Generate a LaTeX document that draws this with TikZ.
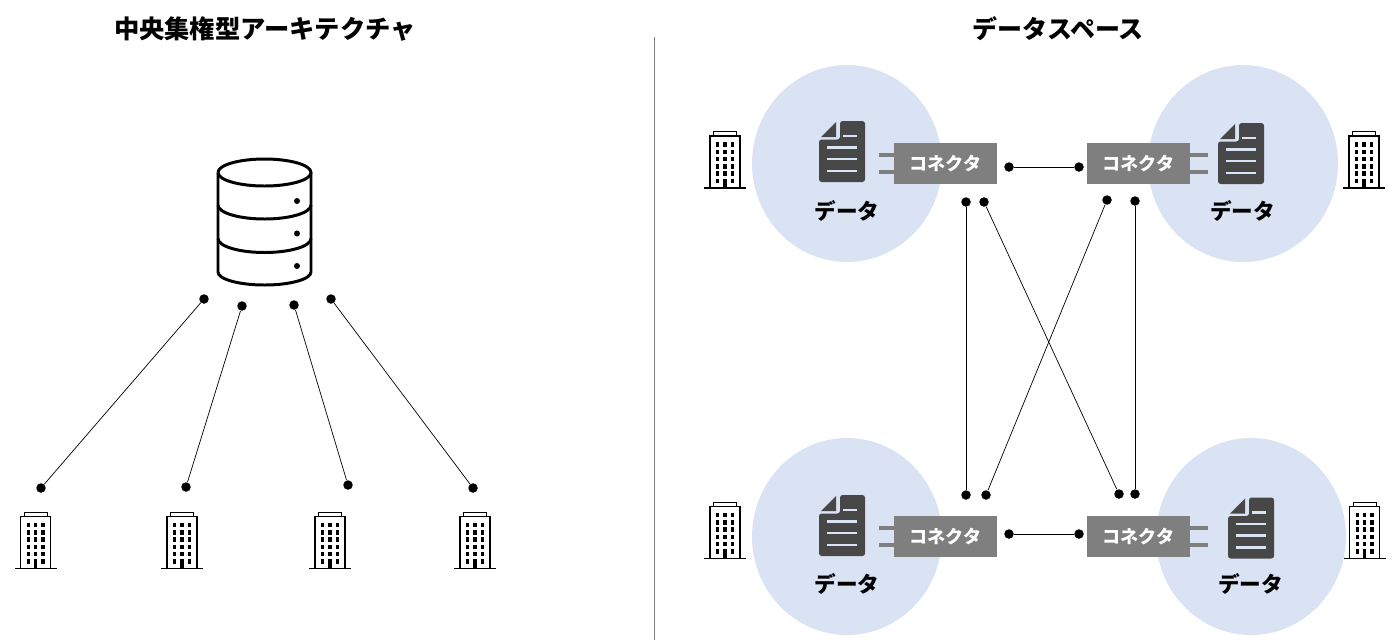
\documentclass[tikz,border=0pt]{standalone}
\usepackage{fontspec}
\newfontfamily\jpfont{Noto Sans CJK JP}
\usepackage{tikz}
\usetikzlibrary{calc,shapes.geometric}
\definecolor{circleblue}{HTML}{DAE3F3}
\definecolor{docgray}{HTML}{474747}
\definecolor{boxgray}{HTML}{7F7F7F}
\tikzset{
	title/.style={font=\jpfont\bfseries\fontsize{14.2}{16}\selectfont},
	datalabel/.style={font=\jpfont\bfseries\fontsize{12.3}{14}\selectfont},
	connbox/.style={fill=boxgray,text=white,inner sep=0pt,minimum width=2.06cm,minimum height=0.82cm,font=\jpfont\bfseries\fontsize{10.3}{12}\selectfont},
	prong/.style={draw=boxgray,line width=0.8mm},
	zone/.style={ellipse,fill=circleblue,inner sep=0pt,minimum width=3.8cm,minimum height=3.94cm},
	dot/.style={circle,fill=black,inner sep=0pt,minimum size=0.19cm},
	link/.style={draw=black,line width=0.4pt},
	building/.pic={ %base centre is the origin
		\draw[line width=0.7pt] (-21,0) -- (21,0);
		\draw[line width=0.7pt] (-15,0) -- (-15,-52) -- (15,-52) -- (15,0);
		\draw[line width=0.5pt] (-11.5,-52) -- (-11.5,-56.5) -- (11.5,-56.5) -- (11.5,-52);
		\foreach \wy in {-43.5,-36,-29,-21.5,-14.5,-7}{
			\foreach \wx in {-7.3,0,7.3}{
				\fill (\wx-1.7,\wy-2.4) rectangle (\wx+1.7,\wy+2.4);
			}
		}
		\fill (-1.7,-9) rectangle (1.7,0); %door
	},
	document/.pic={ %centre is the origin
		\fill[docgray,rounded corners=1.5pt] (-23,-12) -- (-2,-12) -- (-2,-30.5) -- (23,-30.5) -- (23,30.5) -- (-23,30.5) -- cycle;
		\fill[docgray] (-21,-14.5) -- (-6,-14.5) -- (-6,-29.5) -- cycle;
		\draw[circleblue,line width=1.35pt] (1,-15.5) -- (15,-15.5);
		\foreach \ly in {-4,7.5,19.5}{
			\draw[circleblue,line width=1.35pt] (-15,\ly) -- (15,\ly);
		}
	},
}
\begin{document}
\begin{tikzpicture}[x=0.02cm,y=-0.02cm]
	\useasboundingbox (0,0) rectangle (1400,640);
	\node[title,font=\jpfont\bfseries\fontsize{14.4}{16}\selectfont] (lefttitle) at (265,29) {中央集権型アーキテクチャ};
	\node[title] (righttitle) at (1058,29) {データスペース};
	\coordinate (divtop) at (654.5,37);
	\coordinate (divbot) at (654.5,640);
	\draw[boxgray,line width=0.5pt] (divtop) -- (divbot); %divider
	% database
	\draw[line width=1.7pt] (218,172.5) arc[start angle=180,end angle=-180,x radius=46.5,y radius=13.5];
	\draw[line width=1.7pt,line join=round] (218,172.5) -- (218,272) arc[start angle=180,end angle=360,x radius=46.5,y radius=-13] -- (311,172.5);
	\draw[line width=1.7pt] (218,205) arc[start angle=180,end angle=360,x radius=46.5,y radius=-14];
	\draw[line width=1.7pt] (218,238.5) arc[start angle=180,end angle=360,x radius=46.5,y radius=-14];
	\foreach \dy in {201,233.5,266}{
		\fill (297,\dy) circle (3);
	}
	% left links
	\foreach \nm/\ax/\ay/\bx/\by in {a/204/299/41/488,b/242/306/186/487,c/294/305/348/485,d/331/299/473/488}{
		\node[dot] (\nm top) at (\ax,\ay) {};
		\node[dot] (\nm bot) at (\bx,\by) {};
		\draw[link] (\nm top) -- (\nm bot);
	}
	% data spaces
	\foreach \nm/\zx/\zy/\dx/\dy/\lx/\ly in {nw/847/163.5/842/151.5/847/211,ne/1243/163.5/1241/153.5/1242.5/211,sw/847/536.5/842/525.5/847/584,se/1251/536.5/1251/528/1250.5/584}{
		\node[zone] (zone\nm) at (\zx,\zy) {};
		\pic at (\dx,\dy) {document};
		\node[datalabel] (label\nm) at (\lx,\ly) {データ};
	}
	% buildings
	\foreach \bx/\by in {35.5/568.5,182/568.5,330/568.5,475/568.5,725/188,1364/188,725/558.5,1364.5/558.5}{
		\pic at (\bx,\by) {building};
	}
	% connectors
	\node[connbox] (boxnw) at (945.5,163.5) {コネクタ};
	\node[connbox] (boxne) at (1138.5,163.5) {コネクタ};
	\node[connbox] (boxsw) at (945.5,536.5) {コネクタ};
	\node[connbox] (boxse) at (1138.5,536.5) {コネクタ};
	\foreach \nm in {nw,sw}{
		\draw[prong] ([yshift=0.17cm]box\nm.west) -- ++(-15,0);
		\draw[prong] ([yshift=-0.17cm]box\nm.west) -- ++(-15,0);
	}
	\foreach \nm in {ne,se}{
		\draw[prong] ([yshift=0.17cm]box\nm.east) -- ++(18,0);
		\draw[prong] ([yshift=-0.17cm]box\nm.east) -- ++(18,0);
	}
	% right links
	\foreach \nm/\ax/\ay/\bx/\by in {e/1009/167/1079/167,f/1009/534/1079/534,g/966/202/966/495,h/984/202/1119/494,i/1107/200/986/495,j/1135/201/1135/494}{
		\node[dot] (\nm one) at (\ax,\ay) {};
		\node[dot] (\nm two) at (\bx,\by) {};
		\draw[link] (\nm one) -- (\nm two);
	}
\end{tikzpicture}
\end{document}
